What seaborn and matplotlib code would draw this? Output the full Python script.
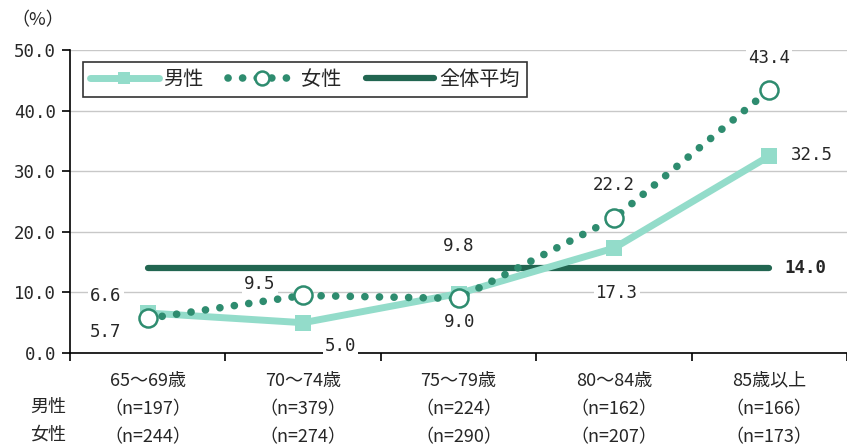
import matplotlib
matplotlib.use("Agg")
import matplotlib.pyplot as plt
import numpy as np
import pandas as pd
import seaborn as sns
from matplotlib.lines import Line2D

# data
categories = ["65～69歳", "70～74歳", "75～79歳", "80～84歳", "85歳以上"]
n_male = [197, 379, 224, 162, 166]
n_female = [244, 274, 290, 207, 173]
male = [6.6, 5.0, 9.8, 17.3, 32.5]
female = [5.7, 9.5, 9.0, 22.2, 43.4]
overall_avg = 14.0

male_col = "#93dcca"
female_col = "#2e8c6f"
avg_col = "#226651"

sns.set_theme(style="white")
plt.rcParams['font.family'] = ['Noto Sans CJK JP', 'DejaVu Sans']
num_font = 'DejaVu Sans Mono'
cjk_size = 13
num_size = 12.5

df = pd.DataFrame({"pos": np.arange(len(categories)), "男性": male, "女性": female,
                   "全体平均": [overall_avg] * len(categories)})

fig = plt.figure(figsize=(8.47, 4.45), dpi=100)
ax = fig.add_axes([70 / 847, 1 - 353 / 445, 777 / 847, 303 / 445])

dotted = (0, (0.01, 1.9))
sns.lineplot(data=df, x="pos", y="全体平均", ax=ax, color=avg_col, lw=4.5,
             solid_capstyle="round", zorder=2)
sns.lineplot(data=df, x="pos", y="男性", ax=ax, color=male_col, lw=5,
             marker="s", markersize=11, markeredgewidth=0, zorder=3)
sns.lineplot(data=df, x="pos", y="女性", ax=ax, color=female_col, lw=5.5,
             linestyle=dotted, dash_capstyle="round",
             marker="o", markersize=13, markerfacecolor="white",
             markeredgecolor=female_col, markeredgewidth=1.8, zorder=4)

ax.set_xlim(-0.5, 4.45)
ax.set_ylim(0, 50)
ax.set_yticks(np.arange(0, 51, 10))
ax.set_yticklabels([f"{v:.1f}" for v in np.arange(0, 51, 10)], fontfamily=num_font,
                   fontsize=num_size)
ax.yaxis.grid(True, color="#c8c8c8", lw=1)
ax.set_axisbelow(True)
for s in ["top", "right"]:
    ax.spines[s].set_visible(False)
for s in ["left", "bottom"]:
    ax.spines[s].set_color("black")
    ax.spines[s].set_linewidth(1.2)
ax.tick_params(axis="y", length=6, width=1.2, color="black", direction="out",
               left=True, pad=4)

# category ticks: boundaries as major, labels as minor
ax.set_xticks(np.arange(-0.5, 4.6, 1.0))
ax.set_xticklabels([])
ax.tick_params(axis="x", which="major", length=6, width=1.2, color="black",
               direction="out", bottom=True)
ax.set_xticks(np.arange(len(categories)), minor=True)
ax.set_xticklabels([f"{c}\n（n={m}）\n（n={f}）" for c, m, f in
                    zip(categories, n_male, n_female)],
                   minor=True, fontsize=cjk_size, linespacing=1.72)
ax.tick_params(axis="x", which="minor", length=0, pad=13.5)
ax.set_xlabel("")
ax.set_ylabel("")

fig.text(48 / 847, 1 - 407 / 445, "男性", ha="center", va="center", fontsize=cjk_size)
fig.text(48 / 847, 1 - 435 / 445, "女性", ha="center", va="center", fontsize=cjk_size)
fig.text(38 / 847, 1 - 20 / 445, "（%）", ha="center", va="center", fontsize=cjk_size)

# data labels (offsets in points)
bbox = dict(facecolor="white", edgecolor="none", pad=1.5)
male_off = [(-30, 12), (27, -17), (0, 34), (2, -32), (31, 1)]
female_off = [(-30, -10), (-31, 8), (1, -17), (0, 24), (0, 23)]
for i, (v, o) in enumerate(zip(male, male_off)):
    ax.annotate(f"{v:.1f}", (i, v), xytext=o, textcoords="offset points",
                ha="center", va="center", fontfamily=num_font, fontsize=num_size,
                bbox=bbox, zorder=5)
for i, (v, o) in enumerate(zip(female, female_off)):
    ax.annotate(f"{v:.1f}", (i, v), xytext=o, textcoords="offset points",
                ha="center", va="center", fontfamily=num_font, fontsize=num_size,
                bbox=bbox, zorder=5)
ax.annotate(f"{overall_avg:.1f}", (4, overall_avg), xytext=(26, 0),
            textcoords="offset points", ha="center", va="center",
            fontfamily=num_font, fontsize=num_size, fontweight="bold", bbox=bbox,
            zorder=5)

handles = [
    Line2D([], [], color=male_col, lw=5, marker="s", markersize=9,
           markeredgewidth=0, solid_capstyle="round"),
    Line2D([], [], color=female_col, lw=5.5, linestyle=dotted,
           dash_capstyle="round", marker="o", markersize=10,
           markerfacecolor="white", markeredgecolor=female_col, markeredgewidth=1.8),
    Line2D([], [], color=avg_col, lw=4.5, solid_capstyle="round"),
]
leg = ax.legend(handles, ["男性", "女性", "全体平均"], ncol=3, loc="upper left",
                bbox_to_anchor=(13 / 777, 1 - 12 / 303), borderaxespad=0,
                fontsize=14.5, handlelength=3.4, columnspacing=1.2,
                handletextpad=0.25, frameon=True, fancybox=False, borderpad=0.35)
leg.get_frame().set_edgecolor("black")
leg.get_frame().set_linewidth(1.2)

fig.savefig("out.png", dpi=100)
